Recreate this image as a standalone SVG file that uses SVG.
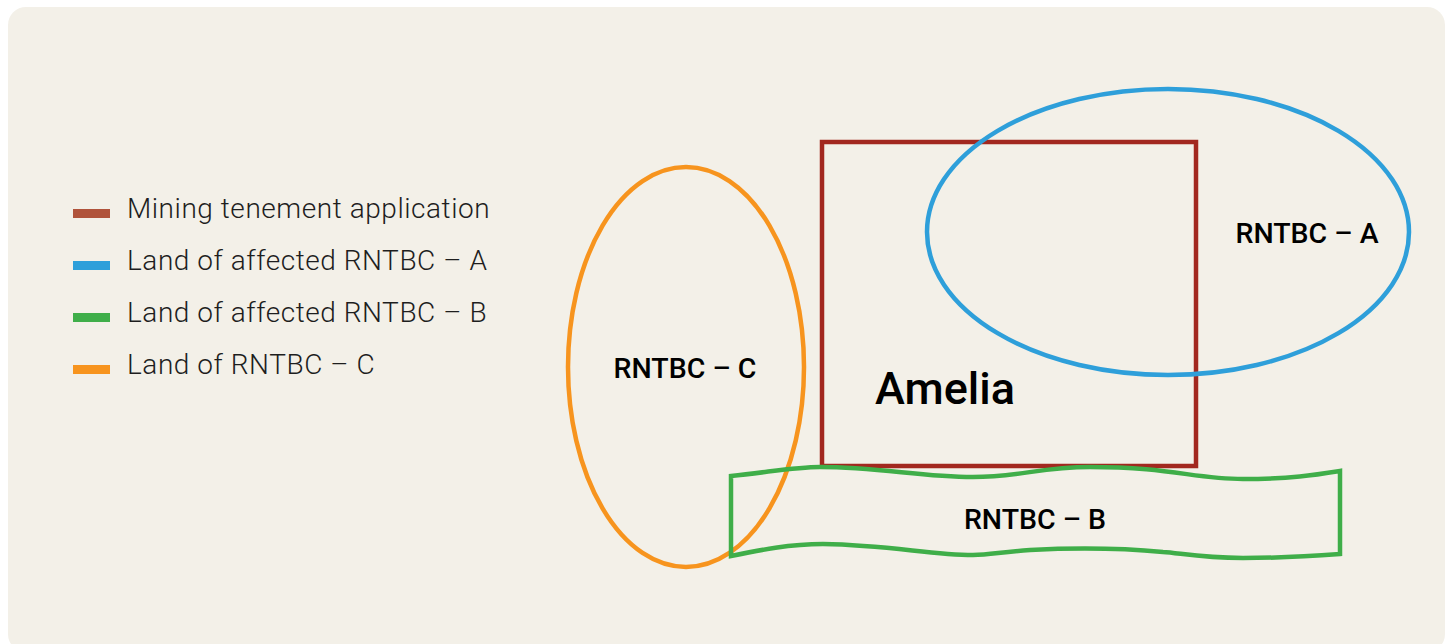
<svg xmlns="http://www.w3.org/2000/svg" width="1451" height="644" viewBox="0 0 1451 644">
<style>
.leg{font-family:Roboto,"Liberation Sans",sans-serif;font-weight:300;font-size:28px;letter-spacing:0.55px;fill:#1e1e1e}
.lab{font-family:Roboto,"Liberation Sans",sans-serif;font-weight:500;font-size:28.5px;fill:#000;text-anchor:middle}
.shape{fill:none;stroke-width:4.5}
</style>
<rect x="8" y="7" width="1437" height="645" rx="18" fill="#F3F0E8"/>
<g id="legend">
<rect x="73" y="209" width="37" height="9" fill="#B0533B"/>
<text class="leg" x="127" y="218">Mining tenement application</text>
<rect x="73" y="261" width="37" height="9" fill="#2E9FDA"/>
<text class="leg" x="127" y="270">Land of affected RNTBC – A</text>
<rect x="73" y="313" width="37" height="9" fill="#3FAE49"/>
<text class="leg" x="127" y="322">Land of affected RNTBC – B</text>
<rect x="73" y="365" width="37" height="9" fill="#F7941E"/>
<text class="leg" x="127" y="374">Land of RNTBC – C</text>
</g>
<g id="tenement">
<rect class="shape" x="822" y="142" width="374" height="324" stroke="#A2281F"/>
<text class="lab" x="945" y="404" style="font-size:45px">Amelia</text>
</g>
<g id="rntbc-a">
<ellipse class="shape" cx="1168" cy="232" rx="241" ry="143" stroke="#2E9FDA"/>
<text class="lab" x="1307" y="243">RNTBC – A</text>
</g>
<g id="rntbc-c">
<ellipse class="shape" cx="686" cy="367" rx="118" ry="200" stroke="#F7941E"/>
<text class="lab" x="685" y="378">RNTBC – C</text>
</g>
<g id="rntbc-b">
<path class="shape" stroke="#3FAE49" d="M731,476 C770,472 795,467 820,467 C880,467 920,477 973,477 C1020,477 1040,467 1090,467 C1170,467 1195,479 1243,479 C1290,479 1315,475 1340,471 L1340,554 C1300,557 1280,558 1243,558 C1200,558 1180,553 1163,552 C1120,548 1070,548 1030,550 C1000,552 990,555 973,555 C930,555 890,545 823,544 C790,544 760,550 731,556 Z"/>
<text class="lab" x="1035" y="529">RNTBC – B</text>
</g>
<g id="connectors"/>
</svg>
